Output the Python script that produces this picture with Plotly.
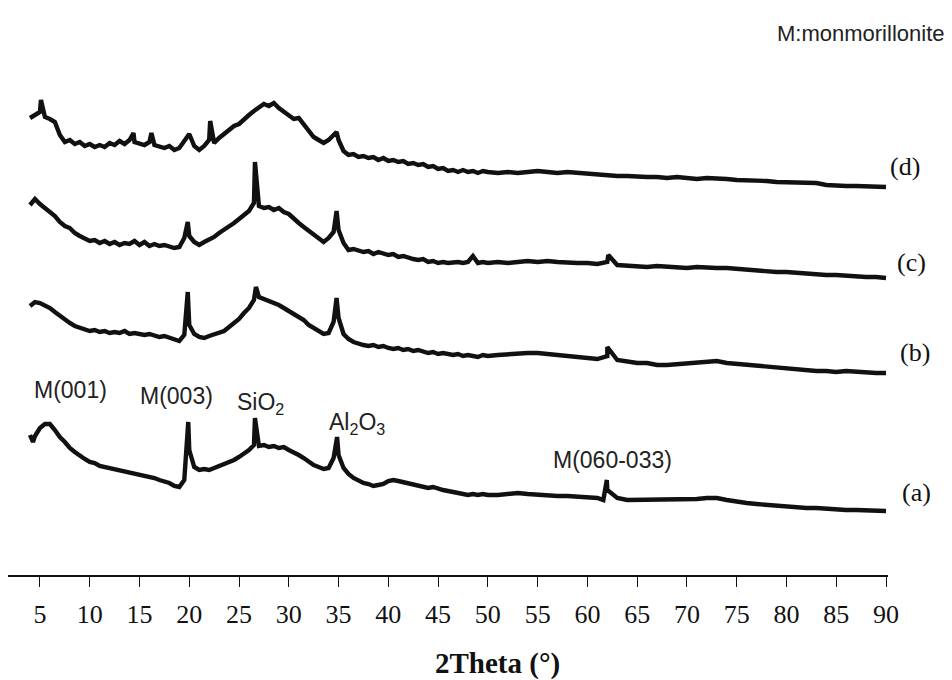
import plotly.graph_objects as go

# Shared 2-theta sampling grid (degrees)
TWO_THETA = [4.0, 4.5, 5.0, 5.5, 6.0, 6.5, 7.0, 7.5, 8.0, 8.5, 9.0, 9.5, 10.0, 10.5, 11.0, 11.5,
             12.0, 12.5, 13.0, 13.5, 14.0, 14.5, 15.0, 15.5, 16.0, 16.5, 17.0, 17.5, 18.0, 18.5,
             19.0, 19.5, 20.0, 20.5, 21.0, 21.5, 22.0, 22.5, 23.0, 23.5, 24.0, 24.5, 25.0, 25.5,
             26.0, 26.5, 27.0, 27.5, 28.0, 28.5, 29.0, 29.5, 30.0, 30.5, 31.0, 31.5, 32.0, 32.5,
             33.0, 33.5, 34.0, 34.5, 35.0, 35.5, 36.0, 36.5, 37.0, 37.5, 38.0, 38.5, 39.0, 39.5,
             40.0, 40.5, 41.0, 41.5, 42.0, 42.5, 43.0, 43.5, 44.0, 44.5, 45.0, 45.5, 46.0, 46.5,
             47.0, 47.5, 48.0, 48.5, 49.0, 49.5, 50.0,
             51, 52, 53, 54, 55, 56, 57, 58, 59, 60, 61, 62, 63, 64, 65, 66, 67, 68, 69, 70,
             71, 72, 73, 74, 75, 76, 77, 78, 79, 80, 81, 82, 83, 84, 85, 86, 87, 88, 89, 90]

# Stacked intensities (a.u.) on the grid
INT_D = [457, 460, 463, 458, 456, 453, 440, 433, 435, 431, 433, 429, 431, 428, 430, 428,
         432, 430, 434, 431, 435, 433, 432, 430, 433, 430, 428, 427, 429, 425,
         427, 434, 441, 429, 425, 429, 435, 432, 437, 441, 444, 449, 451, 456,
         460, 464, 467, 471, 469, 472, 467, 463, 459, 456, 457, 451, 445, 438,
         435, 432, 435, 441, 435, 424, 420, 421, 418, 419, 417, 418, 415, 417,
         414, 415, 413, 414, 411, 412, 410, 411, 408, 409, 406, 407, 404, 405,
         403, 405, 403, 404, 402, 404, 403,
         402, 403, 402, 403, 404, 403, 402, 403, 402, 401, 400, 400, 399, 399, 398, 398, 398, 397, 398, 397,
         396, 397, 397, 396, 395, 395, 394, 394, 393, 393, 392, 392, 392, 390, 389, 389, 389, 389, 388, 388]
INT_C = [370, 376, 371, 367, 362, 359, 353, 349, 347, 342, 339, 337, 334, 335, 332, 334,
         331, 333, 330, 332, 331, 334, 330, 333, 329, 331, 329, 330, 328, 327,
         328, 337, 339, 333, 330, 333, 335, 338, 342, 345, 349, 352, 356, 360,
         364, 372, 369, 367, 368, 365, 367, 363, 361, 356, 352, 348, 344, 340,
         336, 333, 337, 343, 345, 332, 325, 326, 324, 323, 324, 321, 323, 322,
         320, 321, 318, 319, 317, 316, 315, 316, 313, 314, 312, 313, 312, 313,
         313, 312, 313, 319, 312, 313, 312,
         313, 312, 313, 314, 313, 314, 313, 312, 312, 312, 311, 313, 310, 309, 309, 308, 309, 308, 307, 307,
         308, 307, 307, 307, 306, 305, 305, 304, 303, 303, 302, 302, 301, 300, 300, 299, 299, 298, 298, 297]
INT_B = [269, 273, 272, 270, 267, 263, 259, 255, 252, 249, 247, 246, 244, 245, 243, 244,
         242, 243, 242, 244, 241, 242, 241, 240, 241, 239, 238, 239, 237, 235,
         234, 240, 250, 241, 238, 237, 239, 241, 242, 244, 248, 252, 256, 262,
         267, 275, 278, 276, 275, 272, 270, 267, 264, 261, 258, 255, 250, 247,
         244, 241, 242, 253, 257, 241, 236, 233, 231, 230, 229, 230, 228, 229,
         227, 226, 227, 225, 226, 224, 225, 223, 222, 223, 221, 222, 221, 220,
         221, 219, 220, 219, 218, 220, 219,
         220, 221, 221, 222, 222, 221, 219, 218, 217, 217, 216, 219, 215, 213, 212, 212, 210, 210, 211, 211,
         212, 213, 214, 212, 211, 210, 209, 209, 208, 207, 206, 205, 204, 204, 203, 204, 203, 203, 202, 202]
INT_A = [140, 139, 147, 151, 151, 145, 138, 133, 127, 123, 119, 116, 113, 112, 109, 108,
         107, 106, 105, 104, 103, 102, 100, 99, 98, 97, 95, 94, 92, 89,
         88, 95, 125, 108, 105, 106, 105, 107, 108, 110, 113, 115, 118, 121,
         125, 130, 129, 130, 128, 129, 127, 128, 125, 123, 120, 117, 113, 110,
         108, 106, 107, 117, 120, 107, 101, 97, 94, 92, 91, 89, 90, 91,
         94, 95, 94, 93, 91, 90, 89, 88, 87, 88, 86, 85, 84, 83,
         82, 81, 80, 81, 80, 81, 80,
         80, 81, 82, 81, 80, 80, 79, 79, 78, 78, 77, 85, 77, 75, 75, 75, 75, 75, 75, 75,
         76, 77, 77, 75, 73, 72, 71, 70, 69, 68, 68, 67, 67, 66, 66, 65, 65, 65, 65, 64]

# Sharp reflections / extra points between grid nodes: (2theta, intensity)
PEAKS_D = [(5.1, 475), (14.4, 442), (16.2, 442), (22.1, 454), (34.8, 443)]
PEAKS_C = [(19.85, 353), (26.6, 413), (34.8, 364), (62.1, 320)]
PEAKS_B = [(19.85, 283), (26.7, 288), (34.8, 277), (62.0, 228)]
PEAKS_A = [(4.3, 133), (19.9, 153), (26.6, 157), (34.85, 138), (61.6, 75), (61.95, 95)]

SAMPLES = ["(a)", "(b)", "(c)", "(d)"]
SERIES = [(INT_A, PEAKS_A), (INT_B, PEAKS_B), (INT_C, PEAKS_C), (INT_D, PEAKS_D)]
LABEL_Y = [83, 223, 313, 409]
LABEL_X = [1.051, 1.050, 1.0455, 1.0386]

TICKS = [5, 10, 15, 20, 25, 30, 35, 40, 45, 50, 55, 60, 65, 70, 75, 80, 85, 90]

for s in SERIES:
    assert len(s[0]) == len(TWO_THETA), len(s[0])

fig = go.Figure()
for (vals, peaks) in SERIES:
    pts = sorted(list(zip(TWO_THETA, vals)) + list(peaks))
    fig.add_trace(go.Scatter(
        x=[p[0] for p in pts], y=[p[1] for p in pts], mode="lines",
        line=dict(color="#111111", width=4.4), showlegend=False, hoverinfo="skip"))

serif = "Liberation Serif, Times New Roman, serif"
sans = "Liberation Sans, Arial, sans-serif"

ann = []
for name, xv, yv in zip(SAMPLES, LABEL_X, LABEL_Y):
    ann.append(dict(x=xv, y=yv, text=name, showarrow=False, xref="paper", yref="y",
                    font=dict(family=serif, size=26, color="#111")))

PHASES = [("M(001)", 8.1, 185), ("M(003)", 18.75, 179), ("SiO<sub>2</sub>", 27.2, 172),
          ("Al<sub>2</sub>O<sub>3</sub>", 36.9, 152), ("M(060-033)", 62.5, 115)]
for t, xv, yv in PHASES:
    ann.append(dict(x=xv, y=yv, text=t, showarrow=False, xref="x", yref="y",
                    font=dict(family=sans, size=23, color="#222")))
ann.append(dict(x=87.5, y=542, text="M:monmorillonite", showarrow=False, xref="x", yref="y",
                font=dict(family=sans, size=22, color="#222")))
ann.append(dict(x=(433 - 8) / 880, y=(575 - 663) / 575, text="<b>2Theta (°)</b>", showarrow=False,
                xref="paper", yref="paper", xanchor="left", yanchor="middle",
                font=dict(family=serif, size=29, color="#111")))

fig.update_layout(
    width=952, height=680,
    margin=dict(l=8, r=64, t=0, b=105),
    paper_bgcolor="white", plot_bgcolor="white",
    annotations=ann,
    xaxis=dict(range=[1.79, 90.2], showline=True, linecolor="#111", linewidth=1.5,
               ticks="outside", ticklen=10, tickwidth=1.2, tickcolor="#111",
               tickvals=TICKS, ticktext=[str(t) for t in TICKS],
               tickfont=dict(family=serif, size=26, color="#111"),
               ticklabelstandoff=5, showgrid=False, zeroline=False),
    yaxis=dict(range=[0, 575], visible=False, showgrid=False, zeroline=False),
)

fig.write_html("out.html")
